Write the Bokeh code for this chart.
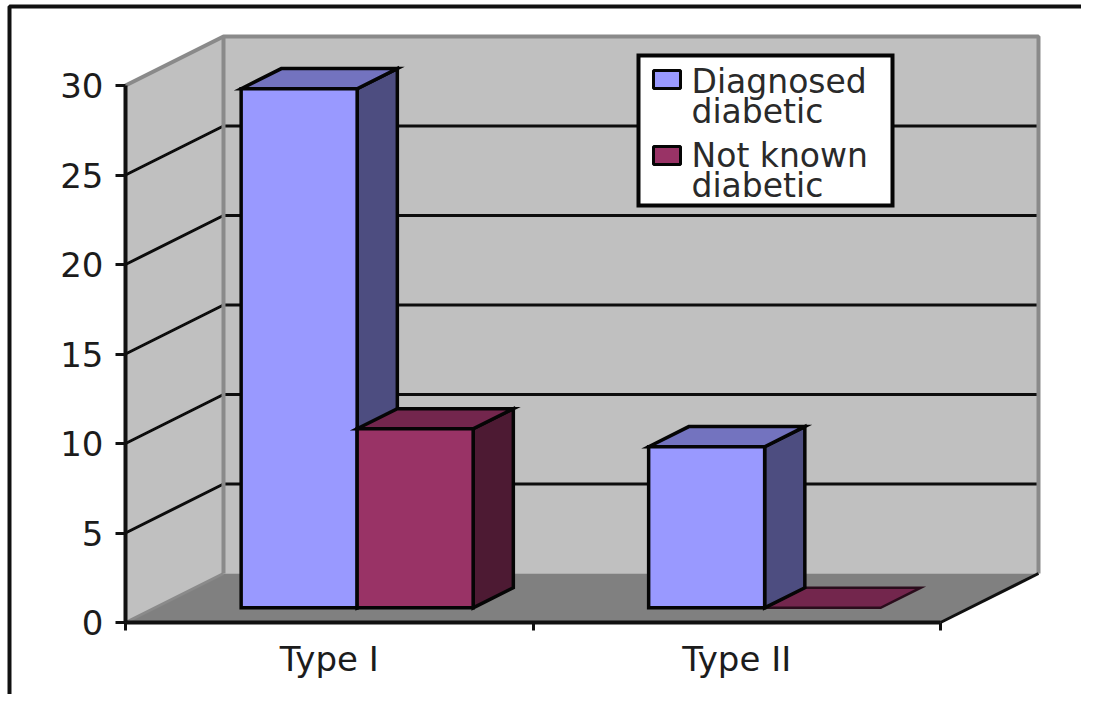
from bokeh.plotting import figure
from bokeh.models import Range1d, LinearAxis, FixedTicker
from bokeh.core.properties import value as fv
from bokeh.embed import file_html
from bokeh.resources import INLINE

# ---- data ----
categories = ["Type I", "Type II"]
series_names = [["Diagnosed", "diabetic"], ["Not known", "diabetic"]]
diagnosed = [29, 9]
not_known = [10, 0]
y_ticks = [0, 5, 10, 15, 20, 25, 30]

# ---- colours ----
WALL, FLOOR, EDGE = "#C0C0C0", "#808080", "#8A8A8A"
BLUE = ("#9999FF", "#7373BF", "#4D4D80")
RED = ("#993366", "#73264D", "#4D1A33")
FONT = "DejaVu Sans"
TXT = "#1c1c1c"

# ---- layout: the plot area of the chart, expressed through linear scales ----
W, H = 1081, 694
X0_PX, Y0_PX = 125, 622          # where category 0 / value 0 lands in the picture
SX, SY = 407.5, 17.9             # pixels per category, pixels per value
DEPTH_X, DEPTH_Y = 98 / SX, 49 / SY   # full floor depth in data units
BAR_W = 116 / SX
FRONT, BACK = 0.30, 0.71         # bar depth extent, as a share of floor depth
GROUP_SHIFT = -1.5 / SX          # bars sit a touch left of the category centre


def dx(px):
    return (px - X0_PX) / SX


def dy(px):
    return (Y0_PX - px) / SY


p = figure(width=W, height=H, output_backend="svg", toolbar_location=None,
           x_range=Range1d(dx(0), dx(W)),
           y_range=Range1d(dy(H), dy(0)),
           x_axis_type=None, y_axis_type=None,
           min_border=0, min_border_left=0, min_border_right=0,
           min_border_top=0, min_border_bottom=0,
           background_fill_color="white", border_fill_color="white",
           outline_line_color=None)
p.grid.visible = False


def proj(cx, v, d):
    """Category position, value and depth share to plot coordinates."""
    return cx + d * DEPTH_X, v + d * DEPTH_Y


n_cat = len(categories)
top_val = max(y_ticks)

# page frame (left and top edges)
p.line([dx(9), dx(9), dx(W)], [dy(H), dy(6), dy(6)],
       line_color="#111111", line_width=4)


def patch(points, fill, line=None, lw=0):
    px = [a for a, _ in points]
    py = [b for _, b in points]
    return p.patch(px, py, fill_color=fill, line_color=line, line_width=lw, line_join="miter")


patch([proj(0, 0, 0), proj(0, top_val, 0), proj(0, top_val, 1), proj(0, 0, 1)], WALL)
patch([proj(0, 0, 1), proj(0, top_val, 1), proj(n_cat, top_val, 1), proj(n_cat, 0, 1)], WALL)
patch([proj(0, 0, 0), proj(n_cat, 0, 0), proj(n_cat, 0, 1), proj(0, 0, 1)], FLOOR)

# gridlines on both walls
for v in y_ticks[1:-1]:
    a, b, c = proj(0, v, 0), proj(0, v, 1), proj(n_cat, v, 1)
    p.line([a[0], b[0], c[0]], [a[1], b[1], c[1]], line_color="#0d0d0d", line_width=3)

# wall edges
a, b, c, e = proj(0, top_val, 0), proj(0, top_val, 1), proj(n_cat, top_val, 1), proj(n_cat, 0, 1)
p.line([a[0], b[0], c[0], e[0]], [a[1], b[1], c[1], e[1]], line_color=EDGE, line_width=4)
f = proj(0, 0, 1)
p.line([b[0], f[0]], [b[1], f[1]], line_color=EDGE, line_width=4)
g = proj(0, 0, 0)
p.line([g[0], f[0]], [g[1], f[1]], line_color=EDGE, line_width=3)
h = proj(n_cat, 0, 0)
p.line([h[0], e[0]], [h[1], e[1]], line_color="#111111", line_width=3)


def bar(left, v, colours):
    right = left + BAR_W
    bw = 3.5
    front = [proj(left, 0, FRONT), proj(left, v, FRONT), proj(right, v, FRONT), proj(right, 0, FRONT)]
    top = [proj(left, v, FRONT), proj(left, v, BACK), proj(right, v, BACK), proj(right, v, FRONT)]
    side = [proj(right, 0, FRONT), proj(right, v, FRONT), proj(right, v, BACK), proj(right, 0, BACK)]
    if v > 0:
        patch(side, colours[2], "#050505", bw)
        patch(top, colours[1], "#050505", bw)
        patch(front, colours[0], "#050505", bw)
    else:
        patch(top, colours[1], "#2a0d1c", 2.5)


# bars meet at each category's centre; a zero-height bar is drawn first, as a flat plate
for i in range(n_cat):
    centre = i + 0.5 + GROUP_SHIFT
    if not_known[i] == 0:
        bar(centre, not_known[i], RED)
    bar(centre - BAR_W, diagnosed[i], BLUE)
    if not_known[i] > 0:
        bar(centre, not_known[i], RED)

# axes
yax = LinearAxis(ticker=FixedTicker(ticks=y_ticks), fixed_location=0, bounds=(0, top_val))
yax.axis_line_color = "#111111"
yax.axis_line_width = 4
yax.major_tick_line_color = "#111111"
yax.major_tick_line_width = 3
yax.major_tick_in = 0
yax.major_tick_out = 10
yax.minor_tick_line_color = None
yax.major_label_standoff = 12
yax.major_label_text_font = FONT
yax.major_label_text_font_size = "34px"
yax.major_label_text_color = TXT
p.add_layout(yax, "left")

xax = LinearAxis(ticker=FixedTicker(ticks=[i + 0.5 for i in range(n_cat)],
                                    minor_ticks=list(range(n_cat + 1))),
                 fixed_location=0, bounds=(0, n_cat))
xax.major_label_overrides = {i + 0.5: c for i, c in enumerate(categories)}
xax.axis_line_color = "#111111"
xax.axis_line_width = 4
xax.major_tick_line_color = None
xax.major_tick_in = 0
xax.major_tick_out = 0
xax.minor_tick_line_color = "#111111"
xax.minor_tick_line_width = 3
xax.minor_tick_in = 0
xax.minor_tick_out = 8
xax.major_label_standoff = 8
xax.major_label_text_font = FONT
xax.major_label_text_font_size = "34px"
xax.major_label_text_color = TXT
p.add_layout(xax, "below")

# legend box
p.quad(left=dx(638), right=dx(892), top=dy(55), bottom=dy(205),
       fill_color="white", line_color="#050505", line_width=4, line_join="miter")
for lines, colour, sw_mid, line_mids in zip(series_names, (BLUE[0], RED[0]), (79, 155),
                                            ((81, 111), (155, 185))):
    p.quad(left=dx(653), right=dx(680), top=dy(sw_mid - 9), bottom=dy(sw_mid + 9),
           fill_color=colour, line_color="#050505", line_width=3)
    for label, mid in zip(lines, line_mids):
        p.text(x=[dx(691)], y=[dy(mid)], text=[label], text_font=fv(FONT),
               text_font_size="33px", text_baseline="middle", text_align="left",
               text_color="#2a2a2a")

open("out.html", "w").write(file_html(p, INLINE))
